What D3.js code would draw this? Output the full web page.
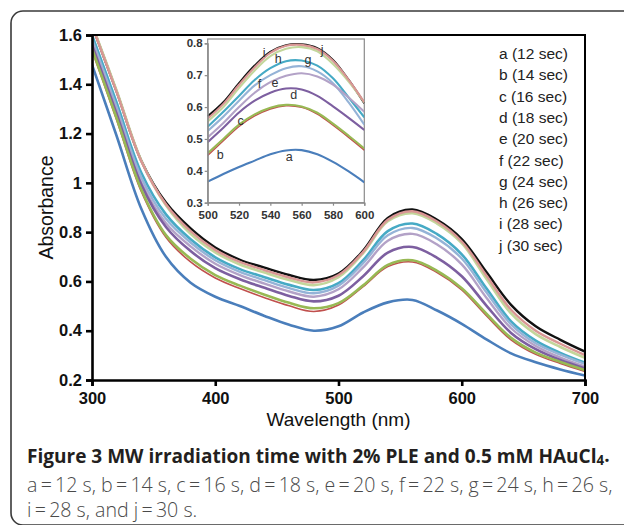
<!DOCTYPE html>
<html><head><meta charset="utf-8">
<script src="https://cdn.jsdelivr.net/npm/d3@7"></script>
<style>body{margin:0;background:#fff}svg{display:block}</style>
</head><body>
<svg id="chart" width="624" height="525"></svg>
<script>
// ---------- data ----------
const wavelengths = [300,320,340,360,380,400,420,440,460,480,500,520,540,560,580,600,620,640,660,680,700];
const seriesKeys  = ["a","b","c","d","e","f","g","h","i","j"];
const seriesTimes = [12,14,16,18,20,22,24,26,28,30];
const absA = [1.48,1.19,0.895,0.70,0.595,0.538,0.50,0.46,0.424,0.40,0.418,0.474,0.515,0.525,0.482,0.428,0.365,0.308,0.272,0.243,0.218];
const absB = [1.538,1.255,0.965,0.779,0.679,0.614,0.571,0.534,0.501,0.478,0.504,0.579,0.660,0.679,0.636,0.566,0.461,0.363,0.304,0.267,0.235];
const absC = [1.544,1.262,0.973,0.788,0.692,0.626,0.583,0.546,0.513,0.491,0.512,0.584,0.667,0.686,0.643,0.572,0.469,0.371,0.311,0.273,0.240];
const absD = [1.56,1.28,0.993,0.821,0.723,0.654,0.609,0.574,0.541,0.519,0.542,0.621,0.717,0.740,0.696,0.621,0.502,0.391,0.325,0.281,0.247];
const absE = [1.568,1.289,1.002,0.836,0.742,0.672,0.626,0.591,0.559,0.538,0.568,0.657,0.765,0.793,0.750,0.669,0.534,0.410,0.338,0.291,0.255];
const absF = [1.584,1.307,1.022,0.854,0.758,0.686,0.639,0.605,0.573,0.552,0.583,0.674,0.787,0.817,0.774,0.693,0.556,0.426,0.349,0.303,0.265];
const absG = [1.60,1.325,1.041,0.872,0.771,0.698,0.650,0.617,0.586,0.565,0.593,0.686,0.804,0.835,0.792,0.710,0.572,0.438,0.360,0.310,0.270];
const absH = [1.643,1.374,1.09,0.909,0.793,0.718,0.669,0.636,0.606,0.585,0.617,0.715,0.844,0.877,0.835,0.755,0.611,0.470,0.386,0.334,0.290];
const absI = [1.638,1.368,1.088,0.913,0.804,0.728,0.679,0.646,0.616,0.596,0.626,0.720,0.850,0.885,0.843,0.762,0.624,0.485,0.400,0.347,0.301];
const absJ = [1.64,1.37,1.09,0.92,0.815,0.738,0.688,0.656,0.626,0.606,0.632,0.725,0.858,0.892,0.850,0.772,0.638,0.505,0.418,0.363,0.315];

const insetWavelengths = [500,510,520,530,540,550,560,570,580,590,600];
const insA = [0.366,0.39,0.412,0.432,0.452,0.464,0.465,0.452,0.428,0.398,0.364];
const insB = [0.448,0.494,0.539,0.572,0.594,0.604,0.599,0.578,0.543,0.505,0.465];
const insC = [0.455,0.50,0.545,0.577,0.598,0.607,0.602,0.582,0.548,0.51,0.47];
const insD = [0.49,0.535,0.583,0.62,0.645,0.658,0.655,0.635,0.602,0.566,0.528];
const insE = [0.505,0.55,0.60,0.645,0.678,0.698,0.706,0.696,0.67,0.63,0.585];
const insF = [0.525,0.57,0.62,0.668,0.70,0.722,0.728,0.712,0.675,0.615,0.545];
const insG = [0.538,0.585,0.635,0.685,0.722,0.744,0.746,0.73,0.69,0.63,0.568];
const insH = [0.555,0.60,0.66,0.715,0.76,0.783,0.788,0.775,0.735,0.68,0.615];
const insI = [0.564,0.61,0.67,0.725,0.77,0.792,0.795,0.782,0.745,0.685,0.615];
const insJ = [0.571,0.615,0.675,0.73,0.773,0.794,0.797,0.785,0.748,0.685,0.612];

// inset letter anchors (wavelength, absorbance)
const insetLabelWl  = [552,508,521,555,543,533,564,545,536,573];
const insetLabelAbs = [0.446,0.45,0.557,0.638,0.678,0.675,0.748,0.753,0.772,0.779];

const xTicks = [300,400,500,600,700];
const yTicks = [0.2,0.4,0.6,0.8,1.0,1.2,1.4,1.6];
const yTickLabels = ["0.2","0.4","0.6","0.8","1","1.2","1.4","1.6"];
const insetXTicks = [500,520,540,560,580,600];
const insetYTicks = [0.3,0.4,0.5,0.6,0.7,0.8];

const xTitle = "Wavelength (nm)";
const yTitle = "Absorbance";
const captionBold = "Figure 3 MW irradiation time with 2% PLE and 0.5 mM HAuCl";
const captionLine2 = "a\u2009=\u200912 s, b\u2009=\u200914 s, c\u2009=\u200916 s, d\u2009=\u200918 s, e\u2009=\u200920 s, f\u2009=\u200922 s, g\u2009=\u200924 s, h\u2009=\u200926 s,";
const captionLine3 = "i\u2009=\u200928 s, and j\u2009=\u200930 s.";

// ---------- styles ----------
const mainSeries  = [absA,absB,absC,absD,absE,absF,absG,absH,absI,absJ];
const insetSeries = [insA,insB,insC,insD,insE,insF,insG,insH,insI,insJ];
const colors = ["#4a7ebb","#c0504d","#98b954","#7d5fa0","#b3a2c7","#95b3d7","#46aac5","#c3d69b","#d99694","#111111"];
const widths = [2.6,1.6,2.6,2.6,2.4,2.4,2.6,2.6,2.4,2.4];
const drawOrder = [9,7,8,6,5,4,3,1,2,0];
const FONT = "'Liberation Sans', Arial, sans-serif";

const svg = d3.select("#chart");

// outer rounded frame
svg.append("rect").attr("x",11).attr("y",11).attr("width",660).attr("height",514)
  .attr("rx",12).attr("fill","none").attr("stroke","#3a3a3a").attr("stroke-width",1.6);

// ---------- main plot ----------
const x = d3.scaleLinear().domain([300,700]).range([92,585]);
const y = d3.scaleLinear().domain([0.2,1.6]).range([380,35]);

svg.append("clipPath").attr("id","clipMain").append("rect")
  .attr("x",x(300)).attr("y",y(1.6)).attr("width",x(700)-x(300)).attr("height",y(0.2)-y(1.6));

const line = d3.line().x((d,i)=>x(wavelengths[i])).y(d=>y(d)).curve(d3.curveCatmullRom.alpha(0.5));
const gLines = svg.append("g").attr("clip-path","url(#clipMain)");
drawOrder.forEach(k=>{
  gLines.append("path").attr("d",line(mainSeries[k])).attr("fill","none")
    .attr("stroke",colors[k]).attr("stroke-width",widths[k]).attr("stroke-linejoin","round");
});

// frame (top & right)
svg.append("path").attr("d",`M${x(300)},${y(1.6)}H${x(700)}V${y(0.2)}`)
  .attr("fill","none").attr("stroke","#000").attr("stroke-width",2);

const xAxis = svg.append("g").attr("transform",`translate(0,${y(0.2)})`)
  .call(d3.axisBottom(x).tickValues(xTicks).tickSize(6).tickPadding(4).tickFormat(d3.format("d")));
const yAxis = svg.append("g").attr("transform",`translate(${x(300)},0)`)
  .call(d3.axisLeft(y).tickValues(yTicks).tickSize(6).tickPadding(4).tickFormat((d,i)=>yTickLabels[i]));
[xAxis,yAxis].forEach(g=>{
  g.select(".domain").attr("stroke","#000").attr("stroke-width",2.6);
  g.selectAll(".tick line").attr("stroke","#000").attr("stroke-width",2.6);
  g.selectAll(".tick text").attr("fill","#111").style("font-family",FONT)
    .style("font-weight","bold").style("font-size","16.5px");
});
xAxis.selectAll(".tick text").attr("dy","0.85em");

svg.append("text").attr("x",(x(300)+x(700))/2).attr("y",426).attr("text-anchor","middle")
  .style("font-family",FONT).style("font-size","19px").attr("fill","#111").text(xTitle);
svg.append("text").attr("transform",`translate(53,${y(0.9)}) rotate(-90)`).attr("text-anchor","middle")
  .style("font-family",FONT).style("font-size","19.5px").attr("fill","#111").text(yTitle);

// legend
const legend = svg.append("g");
seriesKeys.forEach((k,i)=>{
  legend.append("text").attr("x",499).attr("y",59+i*21.3)
    .style("font-family",FONT).style("font-size","15.5px").attr("fill","#222")
    .text(`${k} (${seriesTimes[i]} sec)`);
});

// ---------- inset ----------
const xi = d3.scaleLinear().domain([500,600]).range([207.7,364.3]);
const yi = d3.scaleLinear().domain([0.3,0.8]).range([202.7,43.3]);
const insetTop = 39;
svg.append("rect").attr("x",xi(500)).attr("y",insetTop).attr("width",xi(600)-xi(500))
  .attr("height",yi(0.3)-insetTop).attr("fill","#fff").attr("stroke","#8a8a8a").attr("stroke-width",1.2);
svg.append("clipPath").attr("id","clipInset").append("rect")
  .attr("x",xi(500)).attr("y",insetTop).attr("width",xi(600)-xi(500)).attr("height",yi(0.3)-insetTop);
const lineI = d3.line().x((d,i)=>xi(insetWavelengths[i])).y(d=>yi(d)).curve(d3.curveCatmullRom.alpha(0.5));
const gInset = svg.append("g").attr("clip-path","url(#clipInset)");
drawOrder.forEach(k=>{
  gInset.append("path").attr("d",lineI(insetSeries[k])).attr("fill","none")
    .attr("stroke",colors[k]).attr("stroke-width",k===1?1.4:2.1).attr("stroke-linejoin","round");
});
const xiAxis = svg.append("g").attr("transform",`translate(0,${yi(0.3)})`)
  .call(d3.axisBottom(xi).tickValues(insetXTicks).tickSize(3).tickPadding(3).tickFormat(d3.format("d")));
const yiAxis = svg.append("g").attr("transform",`translate(${xi(500)},0)`)
  .call(d3.axisLeft(yi).tickValues(insetYTicks).tickSize(3).tickPadding(2).tickFormat(d3.format(".1f")));
[xiAxis,yiAxis].forEach(g=>{
  g.select(".domain").attr("stroke","#8a8a8a").attr("stroke-width",1.2);
  g.selectAll(".tick line").attr("stroke","#8a8a8a").attr("stroke-width",1.2);
  g.selectAll(".tick text").attr("fill","#333").style("font-family",FONT)
    .style("font-weight","bold").style("font-size","11.5px");
});
xiAxis.selectAll(".tick text").attr("dy","0.9em");
seriesKeys.forEach((k,i)=>{
  svg.append("text").attr("x",xi(insetLabelWl[i])).attr("y",yi(insetLabelAbs[i])).attr("dy","0.35em")
    .attr("text-anchor","middle").style("font-family",FONT).style("font-size","12.5px")
    .attr("fill","#333").text(k);
});

// ---------- caption ----------
const capFont = "'Open Sans', 'Noto Sans', sans-serif";
const cap1 = svg.append("text").attr("x",27).attr("y",463.3).style("font-family",capFont)
  .style("font-weight","bold").style("font-size","18px").attr("fill","#231f20");
cap1.append("tspan").text(captionBold);
cap1.append("tspan").attr("dy","0.15em").style("font-size","0.7em").text("4");
cap1.append("tspan").attr("dy","-0.15em").text(".");
const w1 = cap1.node().getComputedTextLength();
cap1.style("font-size",(18*583/w1).toFixed(2)+"px");

const cap2 = svg.append("text").attr("x",27).attr("y",491.5).style("font-family",capFont)
  .style("font-weight","300").style("font-size","18px").attr("fill","#4a4a4a").text(captionLine2);
const w2 = cap2.node().getComputedTextLength();
const f2 = (18*586/w2).toFixed(2)+"px";
cap2.style("font-size",f2);
svg.append("text").attr("x",27).attr("y",516.5).style("font-family",capFont)
  .style("font-weight","300").style("font-size",f2).attr("fill","#4a4a4a").text(captionLine3);
</script>
</body></html>
